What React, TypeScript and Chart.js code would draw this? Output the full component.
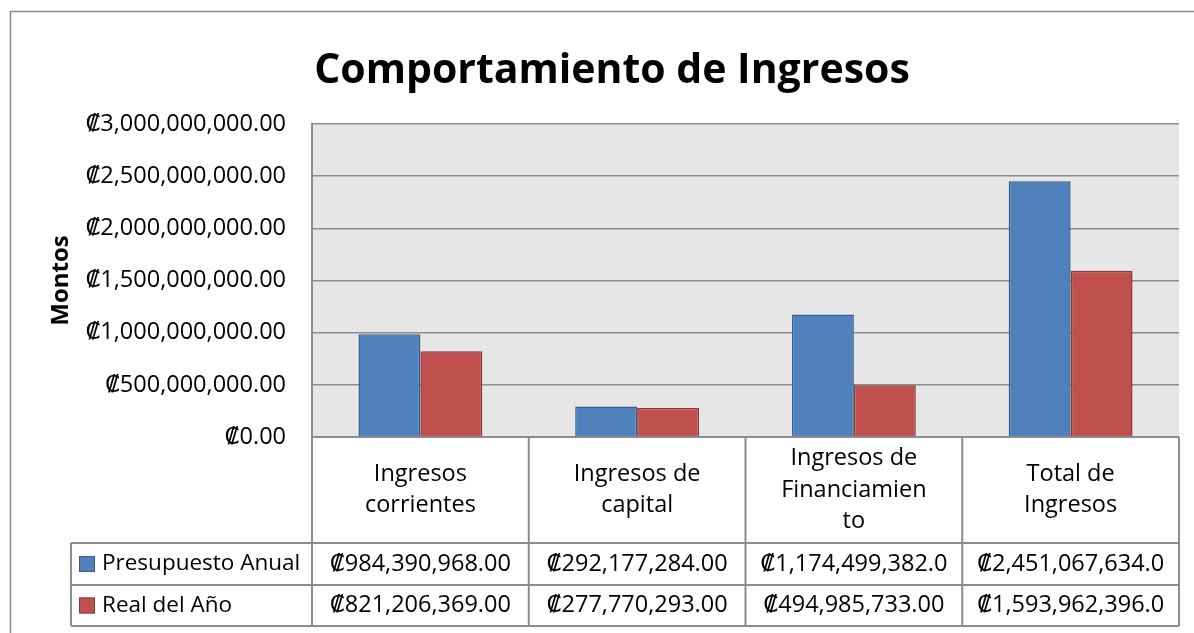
import React, { useEffect, useRef } from "react";
import { Chart, registerables } from "chart.js";

Chart.register(...registerables);

const chartTitle = "Comportamiento de Ingresos";
const yAxisTitle = "Montos";
const categories: string[][] = [
  ["Ingresos", "corrientes"],
  ["Ingresos de", "capital"],
  ["Ingresos de", "Financiamien", "to"],
  ["Total de", "Ingresos"],
];
const seriesNames = ["Presupuesto Anual", "Real del Año"];
const presupuestoAnual = [984390968, 292177284, 1174499382, 2451067634];
const realDelAno = [821206369, 277770293, 494985733, 1593962396];
const yMin = 0;
const yMax = 3000000000;
const yStep = 500000000;

const FONT = '"Open Sans", "DejaVu Sans", sans-serif';
const GRID = "#8c8c8c";
const BLUE = "#4f81bd";
const BLUE_EDGE = "#385d8a";
const RED = "#c0504d";
const RED_EDGE = "#8c3836";

const fmt = (v: number) =>
  "\u20A1" + v.toLocaleString("en-US", { minimumFractionDigits: 2, maximumFractionDigits: 2 });

const TABLE_FONT_SIZE = 23.5;
const LEGEND_FONT_SIZE = 22.5;

const tablePlugin = {
  id: "dataTable",
  beforeDraw(chart: any) {
    const { ctx, width, height } = chart;
    ctx.save();
    ctx.fillStyle = "#ffffff";
    ctx.fillRect(0, 0, width, height);
    ctx.strokeStyle = GRID;
    ctx.lineWidth = 1.5;
    ctx.beginPath();
    ctx.moveTo(10.5, height);
    ctx.lineTo(10.5, 11.5);
    ctx.lineTo(width, 11.5);
    ctx.stroke();
    const a = chart.chartArea;
    ctx.fillStyle = "#e6e6e6";
    ctx.fillRect(a.left, a.top, a.right - a.left, a.bottom - a.top);
    ctx.restore();
  },
  afterDraw(chart: any) {
    const { ctx } = chart;
    const { left, right, bottom } = chart.chartArea;
    const n = categories.length;
    const colW = (right - left) / n;
    const catBottom = bottom + 106;
    const row1 = catBottom + 42;
    const row2 = row1 + 41;
    const legendLeft = 71;
    ctx.save();
    ctx.strokeStyle = GRID;
    ctx.lineWidth = 2;
    const line = (x1: number, y1: number, x2: number, y2: number) => {
      ctx.beginPath();
      ctx.moveTo(x1, y1);
      ctx.lineTo(x2, y2);
      ctx.stroke();
    };
    line(left, bottom, right, bottom);
    [catBottom, row1, row2].forEach((y) => line(legendLeft, y, right, y));
    for (let i = 0; i <= n; i++) line(left + i * colW, bottom, left + i * colW, row2);
    line(legendLeft, catBottom, legendLeft, row2);

    ctx.fillStyle = "#000";
    ctx.font = `${TABLE_FONT_SIZE}px ${FONT}`;
    ctx.textAlign = "center";
    ctx.textBaseline = "middle";
    const lh = 31.5;
    const catMid = (bottom + catBottom) / 2;
    categories.forEach((lines, i) => {
      const cx = left + (i + 0.5) * colW;
      const y0 = catMid - ((lines.length - 1) * lh) / 2;
      lines.forEach((t, j) => ctx.fillText(t, cx, y0 + j * lh));
    });

    const rows = [presupuestoAnual, realDelAno];
    const rowMids = [(catBottom + row1) / 2, (row1 + row2) / 2];
    const fills = [BLUE, RED];
    const edges = [BLUE_EDGE, RED_EDGE];
    rows.forEach((vals, r) => {
      ctx.font = `${TABLE_FONT_SIZE}px ${FONT}`;
      ctx.textAlign = "center";
      vals.forEach((v, i) => {
        let s = fmt(v);
        while (ctx.measureText(s).width > colW - 20 && s.length > 1) s = s.slice(0, -1);
        ctx.fillText(s, left + (i + 0.5) * colW, rowMids[r]);
      });
      ctx.fillStyle = fills[r];
      ctx.fillRect(79, rowMids[r] - 8, 16, 16);
      ctx.strokeStyle = edges[r];
      ctx.lineWidth = 1;
      ctx.strokeRect(79.5, rowMids[r] - 7.5, 15, 15);
      ctx.fillStyle = "#000";
      ctx.textAlign = "left";
      ctx.font = `${LEGEND_FONT_SIZE}px ${FONT}`;
      ctx.fillText(seriesNames[r], 102, rowMids[r]);
    });
    ctx.restore();
  },
};

export default function App() {
  const ref = useRef<HTMLCanvasElement | null>(null);
  useEffect(() => {
    if (!ref.current) return;
    const chart = new Chart(ref.current, {
      type: "bar",
      data: {
        labels: categories,
        datasets: [
          {
            label: seriesNames[0],
            data: presupuestoAnual,
            backgroundColor: BLUE,
            borderColor: BLUE_EDGE,
            borderWidth: 1.5,
            categoryPercentage: 2 / 3.5,
            barPercentage: 1,
          },
          {
            label: seriesNames[1],
            data: realDelAno,
            backgroundColor: RED,
            borderColor: RED_EDGE,
            borderWidth: 1.5,
            categoryPercentage: 2 / 3.5,
            barPercentage: 1,
          },
        ],
      },
      options: {
        responsive: false,
        animation: false,
        layout: { padding: { left: 45, top: 0, right: 15, bottom: 196 } },
        plugins: {
          legend: { display: false },
          tooltip: { enabled: false },
          title: {
            display: true,
            text: chartTitle,
            color: "#000",
            font: { family: FONT, size: 41, weight: "bold", lineHeight: 1.2 },
            padding: { top: 46.5, bottom: 28.3 },
          },
        },
        scales: {
          x: { display: false },
          y: {
            min: yMin,
            max: yMax,
            ticks: {
              stepSize: yStep,
              color: "#000",
              padding: 26,
              font: { family: FONT, size: TABLE_FONT_SIZE },
              callback: (v: any) => fmt(Number(v)),
            },
            grid: { color: GRID, lineWidth: 1.5, drawTicks: false },
            border: { color: GRID, width: 2 },
            title: {
              display: true,
              text: yAxisTitle,
              color: "#000",
              font: { family: FONT, size: 24, weight: "bold", lineHeight: 1.2 },
              padding: { top: 1.6, bottom: 0 },
            },
            afterFit: (scale: any) => {
              scale.width = 267;
            },
          },
        },
      },
      plugins: [tablePlugin],
    });
    return () => chart.destroy();
  }, []);
  return (
    <canvas
      ref={ref}
      width={1194}
      height={633}
      style={{ position: "absolute", left: 0, top: 0, display: "block" }}
    />
  );
}
